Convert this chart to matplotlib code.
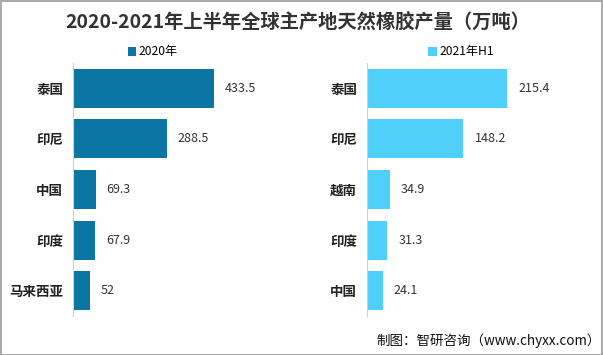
import matplotlib
matplotlib.use("Agg")
import matplotlib.pyplot as plt
from matplotlib.patches import Rectangle

plt.rcParams['font.family'] = ['Noto Sans CJK SC', 'DejaVu Sans']

# data
left_cats = ['泰国', '印尼', '中国', '印度', '马来西亚']
left_vals = [433.5, 288.5, 69.3, 67.9, 52]
left_name = '2020年'

right_cats = ['泰国', '印尼', '越南', '印度', '中国']
right_vals = [215.4, 148.2, 34.9, 31.3, 24.1]
right_name = '2021年H1'

c_left = '#0C76A3'
c_right = '#4FD0FA'

W, H = 603, 355
fig = plt.figure(figsize=(W / 100, H / 100), dpi=100)
fig.patch.set_facecolor('white')
fig.patches.append(Rectangle((0.5 / W, 0.5 / H), 1 - 1.5 / W, 1 - 1.5 / H,
                             transform=fig.transFigure, fill=False,
                             edgecolor='#9a9a9a', linewidth=1.2))


def panel(rect, cats, vals, color, name, xmax):
    ax = fig.add_axes(rect)
    y = list(range(len(cats)))
    ax.barh(y, vals, height=0.77, color=color, label=name)
    ax.set_ylim(len(cats) - 0.5, -0.5)
    ax.set_xlim(0, xmax)
    ax.set_yticks(y)
    ax.set_yticklabels(cats, fontsize=9.7, fontweight='bold', color='#222222')
    ax.tick_params(axis='y', length=0, pad=7)
    ax.set_xticks([])
    for s in ['top', 'right', 'bottom']:
        ax.spines[s].set_visible(False)
    ax.spines['left'].set_color('#d0d0d0')
    ax.spines['left'].set_linewidth(0.8)
    for yi, v in zip(y, vals):
        ax.annotate(f'{v:g}', (v, yi), xytext=(8, 0), textcoords='offset points',
                    va='center', ha='left', fontsize=9, color='#333333')
    return ax


axl = panel([73 / W, 1 - 316 / H, 210 / W, 253 / H], left_cats, left_vals,
            c_left, left_name, 433.5 * 210 / 141)
axr = panel([367 / W, 1 - 316 / H, 205 / W, 253 / H], right_cats, right_vals,
            c_right, right_name, 215.4 * 205 / 140)

fig.legend(*axl.get_legend_handles_labels(), loc='center', bbox_to_anchor=(153 / W, 1 - 52 / H),
           frameon=False, fontsize=8.7, handlelength=0.7, handleheight=0.7,
           handletextpad=0.2, borderpad=0)
fig.legend(*axr.get_legend_handles_labels(), loc='center', bbox_to_anchor=(461 / W, 1 - 52 / H),
           frameon=False, fontsize=8.7, handlelength=0.7, handleheight=0.7,
           handletextpad=0.2, borderpad=0)

fig.text(298 / W, 1 - 22 / H, '2020-2021年上半年全球主产地天然橡胶产量（万吨）',
         ha='center', va='center', fontsize=13.9, fontweight='bold', color='#333333')
fig.text(601 / W, 1 - 341 / H, '制图：智研咨询（www.chyxx.com）',
         ha='right', va='center', fontsize=9.7, color='#111111')

fig.savefig('out.png', dpi=100, facecolor='white')
